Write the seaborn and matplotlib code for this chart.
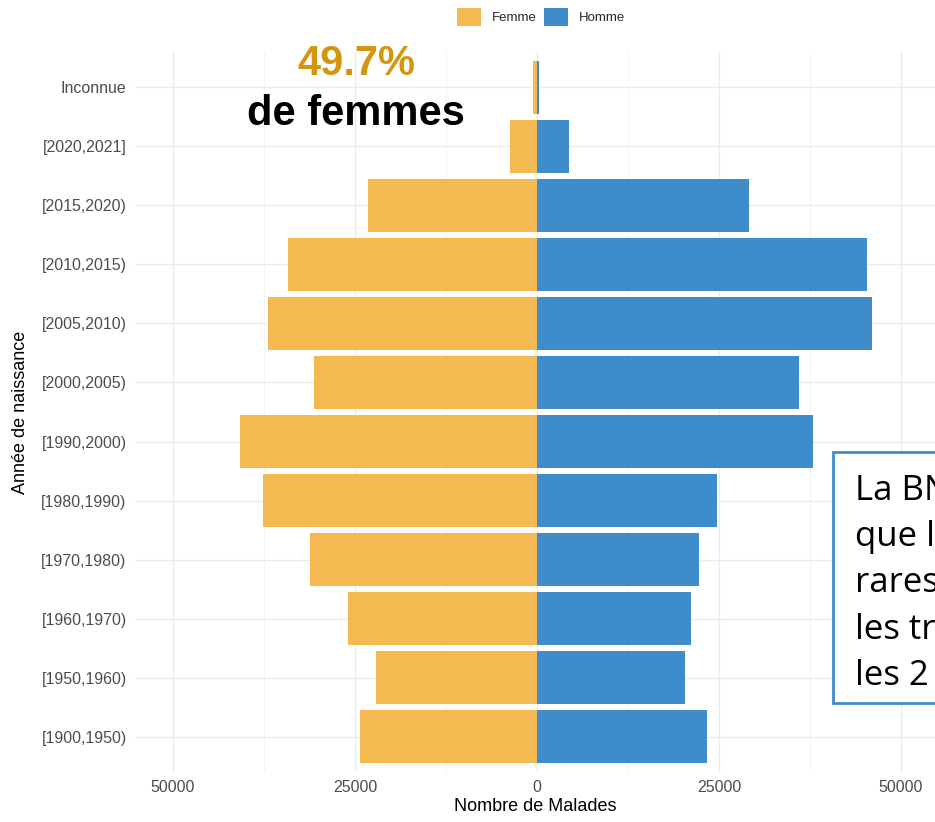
import matplotlib
matplotlib.use("Agg")
import matplotlib.pyplot as plt
from matplotlib.patches import Rectangle
from matplotlib.ticker import FuncFormatter, MultipleLocator
import seaborn as sns
import pandas as pd

annees = ["Inconnue", "[2020,2021]", "[2015,2020)", "[2010,2015)", "[2005,2010)",
          "[2000,2005)", "[1990,2000)", "[1980,1990)", "[1970,1980)", "[1960,1970)",
          "[1950,1960)", "[1900,1950)"]
femmes = [550, 3700, 23200, 34200, 37000, 30600, 40800, 37600, 31200, 26000, 22100, 24300]
hommes = [300, 4400, 29100, 45300, 46000, 36000, 37900, 24700, 22300, 21200, 20300, 23400]

df = pd.DataFrame({
    "annee": annees * 2,
    "malades": [-v for v in femmes] + hommes,
    "sexe": ["Femme"] * len(annees) + ["Homme"] * len(annees),
})

sns.set_theme(style="white")
plt.rcParams["font.family"] = ["Liberation Sans", "DejaVu Sans"]

fig = plt.figure(figsize=(9.35, 8.22), dpi=100)
ax = fig.add_axes([135 / 935, 1 - 772 / 822, 1 - 135 / 935, (772 - 52) / 822])

sns.barplot(data=df, y="annee", x="malades", hue="sexe", order=annees,
            hue_order=["Femme", "Homme"], palette={"Femme": "#F5B951", "Homme": "#3F8CCA"},
            orient="h", dodge=False, width=0.9, linewidth=0, saturation=1, ax=ax, zorder=3)

ax.set_xlim(-55220, 54670)
ax.set_ylim(len(annees) - 0.4, -0.6)
ax.xaxis.set_major_locator(MultipleLocator(25000))
ax.xaxis.set_minor_locator(MultipleLocator(12500))
ax.xaxis.set_major_formatter(FuncFormatter(lambda v, p: f"{abs(int(v))}"))
ax.grid(True, which="major", color="#EBEBEB", linewidth=1.0, zorder=0)
ax.grid(True, which="minor", axis="x", color="#F2F2F2", linewidth=0.7, zorder=0)
ax.set_axisbelow(True)
for s in ax.spines.values():
    s.set_visible(False)
ax.tick_params(axis="both", which="both", length=0, labelsize=11.5, labelcolor="#4D4D4D")
ax.tick_params(axis="y", pad=6)
ax.tick_params(axis="x", pad=6)
ax.set_xlabel("Nombre de Malades", fontsize=13, color="black", labelpad=2)
ax.set_ylabel("Année de naissance", fontsize=13, color="black", labelpad=9)

handles, labels = ax.get_legend_handles_labels()
ax.legend(handles, labels, loc="center", bbox_to_anchor=(541 / 935, 1 - 17 / 822),
          bbox_transform=fig.transFigure, ncol=2, frameon=False, fontsize=9.5,
          handlelength=1.8, handleheight=1.8, columnspacing=0.6, handletextpad=0.8)

fig.text(356 / 935, 1 - 64 / 822, "49.7%", color="#D4960E", fontsize=30,
         fontweight="bold", ha="center", va="center")
fig.text(356 / 935, 1 - 114 / 822, "de femmes", color="black", fontsize=30,
         fontweight="bold", ha="center", va="center")

fig.patches.append(Rectangle((833 / 935, 1 - 703 / 822), 0.3, 251 / 822,
                             transform=fig.transFigure, facecolor="white",
                             edgecolor="#3F8CCA", linewidth=2, zorder=5))
fig.text(855 / 935, 1 - 474 / 822,
         "La BNDMR montre\nque les maladies\nrares touchent\nles trois âges et\nles 2 sexes",
         fontsize=25, family=["Open Sans", "DejaVu Sans"], color="black",
         ha="left", va="top", linespacing=1.46, zorder=6)

fig.savefig("out.png", dpi=100)
